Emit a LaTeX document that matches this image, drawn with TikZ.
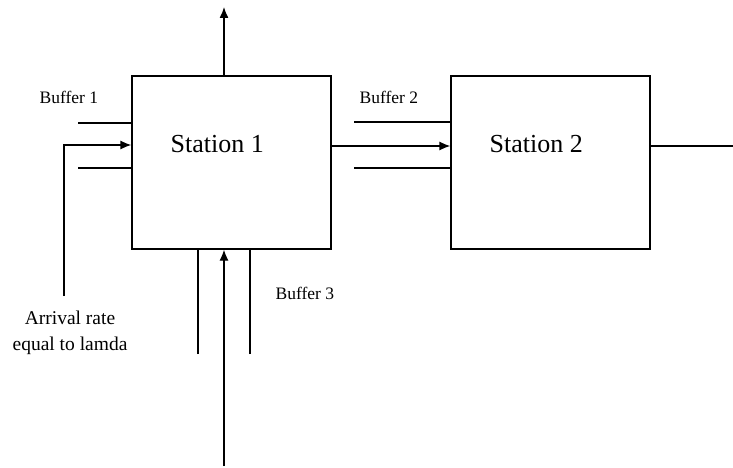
\documentclass[tikz,border=0pt]{standalone}
\usepackage{fontspec}
\setmainfont{Liberation Serif}
\usetikzlibrary{arrows.meta}
\begin{document}
\begin{tikzpicture}[x=1pt,y=-1pt,
  line width=1.3pt,
  box/.style={draw, minimum width=199pt, minimum height=173pt, inner sep=0pt},
  arr/.style={-{Latex[length=11pt,width=9pt]}},
  stlabel/.style={font=\fontsize{26}{28}\selectfont, anchor=base west, inner sep=0pt},
  buflabel/.style={font=\fontsize{17.5}{20}\selectfont, anchor=base west, inner sep=0pt},
  arrlabel/.style={font=\fontsize{19.5}{26}\selectfont, anchor=base, inner sep=0pt}]
\useasboundingbox (0,0) rectangle (733,468);
% stations
\node[box] (s1) at (231.5,162.5) {};
\node[box] (s2) at (550.5,162.5) {};
\node[stlabel] (t1) at (170,153) {Station 1};
\node[stlabel] (t2) at (489,153) {Station 2};
% labels
\node[buflabel] (lb1) at (39,103) {Buffer 1};
\node[buflabel] (lb2) at (359,104) {Buffer 2};
\node[buflabel] (lb3) at (275,299) {Buffer 3};
\node[arrlabel] (la1) at (70,324) {Arrival rate};
\node[arrlabel] (la2) at (70,350) {equal to lamda};
% coordinates
\coordinate (top) at (224,7);
\coordinate (b1a) at (78,123);
\coordinate (b1b) at (78,168);
\coordinate (arrv) at (64,296);
\coordinate (arrc) at (64,145);
\coordinate (b3a) at (198,354);
\coordinate (b3b) at (250,354);
\coordinate (b3in) at (224,466);
\coordinate (b2a) at (354,122);
\coordinate (b2b) at (354,168);
\coordinate (link) at (331,146);
\coordinate (out) at (733,146);
% top output
\draw[arr] (s1.north -| top) -- (top);
% buffer 1
\draw (b1a) -- (s1.west |- b1a);
\draw (b1b) -- (s1.west |- b1b);
\draw[arr] (arrv) -- (arrc) -- (s1.west |- arrc);
% buffer 3
\draw (b3a) -- (s1.south -| b3a);
\draw (b3b) -- (s1.south -| b3b);
\draw[arr] (b3in) -- (s1.south -| b3in);
% buffer 2
\draw (b2a) -- (s2.west |- b2a);
\draw (b2b) -- (s2.west |- b2b);
\draw[arr] (s1.east |- link) -- (s2.west |- link);
% output of station 2
\draw (s2.east |- out) -- (out);
\end{tikzpicture}
\end{document}
